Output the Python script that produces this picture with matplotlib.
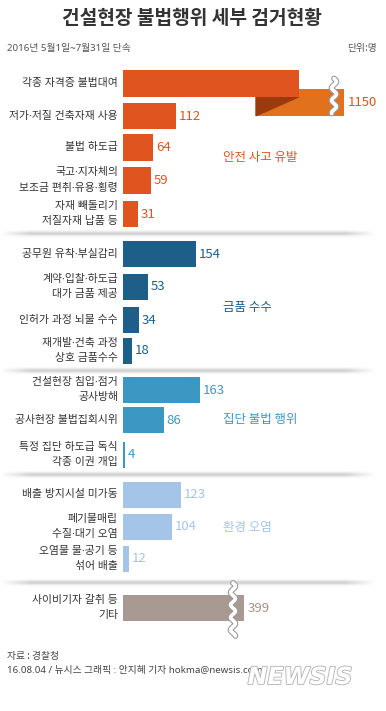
import numpy as np
import matplotlib
matplotlib.use("Agg")
import matplotlib.pyplot as plt
from matplotlib import patheffects as pe
from matplotlib.patches import Polygon

plt.rcParams['font.family'] = ['Noto Sans CJK KR', 'DejaVu Sans']
LABEL_FONT = ['Noto Sans', 'Noto Sans CJK KR']

# ---------------- data ----------------
title = "건설현장 불법행위 세부 검거현황"
subtitle = "2016년 5월1일~7월31일 단속"
unit = "단위:명"
source = "자료 : 경찰청"
credit = "16.08.04 / 뉴시스 그래픽 : 안지혜 기자 hokma@newsis.com"
watermark = "NEWSIS"

group_names = ["안전 사고 유발", "금품 수수", "집단 불법 행위", "환경 오염", ""]

cat_safety = ["각종 자격증 불법대여", "저가·저질 건축자재 사용", "불법 하도급",
              "국고·지자체의\n보조금 편취·유용·횡령", "자재 빼돌리기\n저질자재 납품 등"]
val_safety = [1150, 112, 64, 59, 31]

cat_bribe = ["공무원 유착·부실감리", "계약·입찰·하도급\n대가 금품 제공",
             "인허가 과정 뇌물 수수", "재개발·건축 과정\n상호 금품수수"]
val_bribe = [154, 53, 34, 18]

cat_group = ["건설현장 침입·점거\n공사방해", "공사현장 불법집회시위",
             "특정 집단 하도급 독식\n각종 이권 개입"]
val_group = [163, 86, 4]

cat_env = ["배출 방지시설 미가동", "폐기물매립\n수질·대기 오염", "오염물 물·공기 등\n섞어 배출"]
val_env = [123, 104, 12]

cat_etc = ["사이비기자 갈취 등\n기타"]
val_etc = [399]

# ---------------- layout / style ----------------
W, H = 386, 711
X0 = 123            # pixel x of bar baseline
SCALE = 0.473       # pixels per unit
BAR_H = 26.5
group_colors = ["#E0541F", "#1D5F88", "#3D97C3", "#A4C4E8", "#A89A92"]
value_colors = ["#E0541F", "#1D5F88", "#3D97C3", "#A4C4E8", "#A09088"]
row_y = [[83.5, 116, 147.5, 180.5, 214],
         [254, 287, 320, 351],
         [390, 420, 455],
         [495, 527, 559],
         [608]]
group_label_y = [158, 307, 420, 527, None]
separators_y = [233, 370, 474, 582]

fig = plt.figure(figsize=(W / 100, H / 100), dpi=100)
fig.patch.set_facecolor("white")

bg = fig.add_axes([0, 0, 1, 1])
bg.set_xlim(0, W)
bg.set_ylim(H, 0)
bg.axis("off")

ax = fig.add_axes([X0 / W, 0, (W - X0) / W, 1])
ax.set_xlim(0, (W - X0) / SCALE)
ax.set_ylim(H, 0)
ax.axis("off")

def u(px):
    """pixel length -> data units along x"""
    return px / SCALE

def wave(xc, y_top, y_bot):
    ys = np.linspace(y_top, y_bot, 300)
    xs = xc + u(2.4) * np.sin(2 * np.pi * (ys - y_top) / 12.5)
    ax.plot(xs, ys, color="#9a9a9a", lw=4.2, solid_capstyle="round", zorder=5, clip_on=False)
    ax.plot(xs, ys, color="white", lw=2.6, solid_capstyle="round", zorder=6, clip_on=False)

# title texts
bg.text(191.5, 18, title, ha="center", va="center", fontsize=13.8, fontweight="bold", color="#333333")
bg.text(7, 48, subtitle, ha="left", va="center", fontsize=7, color="#555555", family=LABEL_FONT)
bg.text(377, 48, unit, ha="right", va="center", fontsize=7, color="#555555")

# separators with soft shadow
for sy in separators_y:
    ny, nx = 40, 400
    yy = np.linspace(-3, 7, ny)[:, None]
    xx = np.linspace(0, 1, nx)[None, :]
    vert = np.exp(-((yy - 0.5) / 2.3) ** 2)
    horiz = np.clip(np.minimum(xx / 0.08, (1 - xx) / 0.08), 0, 1)
    alpha = 0.33 * vert * horiz
    img = np.zeros((ny, nx, 4))
    img[..., :3] = 0.45
    img[..., 3] = alpha
    bg.imshow(img, extent=[0, 376, sy + 7, sy - 3], aspect="auto", interpolation="bilinear", zorder=1)

all_cats = [cat_safety, cat_bribe, cat_group, cat_env, cat_etc]
all_vals = [val_safety, val_bribe, val_group, val_env, val_etc]

# broken bars: shown lengths in data units (pixel positions of the break)
fold = {"main_end": u(299 - X0), "piece_start": u(256 - X0), "piece_end": u(344 - X0),
        "wave": u(334 - X0), "drop": 19}
etc_break = {"end": u(244 - X0), "wave": u(233 - X0)}

for gi, (cats, vals) in enumerate(zip(all_cats, all_vals)):
    col = group_colors[gi]
    vcol = value_colors[gi]
    for ri, (c, v) in enumerate(zip(cats, vals)):
        y = row_y[gi][ri]
        bg.text(118, y, c, ha="right", va="center", fontsize=7.8, color="#333333",
                linespacing=1.5, zorder=3, family=LABEL_FONT)
        if gi == 0 and ri == 0:
            y2 = y + fold["drop"]
            ax.barh(y2, fold["piece_end"] - fold["piece_start"], left=fold["piece_start"],
                    height=BAR_H, color="#E2711D", zorder=2)
            tri = Polygon([(fold["piece_start"], y + BAR_H / 2),
                           (fold["main_end"], y + BAR_H / 2),
                           (fold["piece_start"], y2 + BAR_H / 2)],
                          closed=True, color="#9C3A0D", zorder=3)
            ax.add_patch(tri)
            ax.barh(y, fold["main_end"], height=BAR_H, color=col, zorder=4)
            wave(fold["wave"], y - 5, y2 + 11)
            ax.annotate(f"{v}", (fold["piece_end"], y2), xytext=(3, 0), textcoords="offset points",
                        ha="left", va="center", fontsize=9.5, color=vcol, zorder=7)
        elif gi == 4:
            ax.barh(y, etc_break["end"], height=BAR_H, color=col, zorder=2)
            wave(etc_break["wave"], y - 25, y + 28)
            ax.annotate(f"{v}", (etc_break["end"], y), xytext=(2.5, 0), textcoords="offset points",
                        ha="left", va="center", fontsize=9.5, color=vcol, zorder=7)
        else:
            ax.barh(y, v, height=BAR_H, color=col, zorder=2)
            ax.annotate(f"{v}", (v, y), xytext=(2, 0), textcoords="offset points",
                        ha="left", va="center", fontsize=9.5, color=vcol, zorder=7)
    if group_label_y[gi] is not None:
        bg.text(223, group_label_y[gi], group_names[gi], ha="left", va="center",
                fontsize=9, color=vcol)

# footer
bg.text(7, 656, source, ha="left", va="center", fontsize=7, color="#444444")
bg.text(7, 671, credit, ha="left", va="center", fontsize=7, color="#444444", family=LABEL_FONT)
bg.text(300, 677, watermark, ha="center", va="center", fontsize=17, fontstyle="italic",
        fontweight="bold", color="white", family="DejaVu Sans", zorder=10,
        path_effects=[pe.withStroke(linewidth=1.3, foreground="#b5b5b5")])

fig.savefig("out.png", dpi=100, facecolor="white")
